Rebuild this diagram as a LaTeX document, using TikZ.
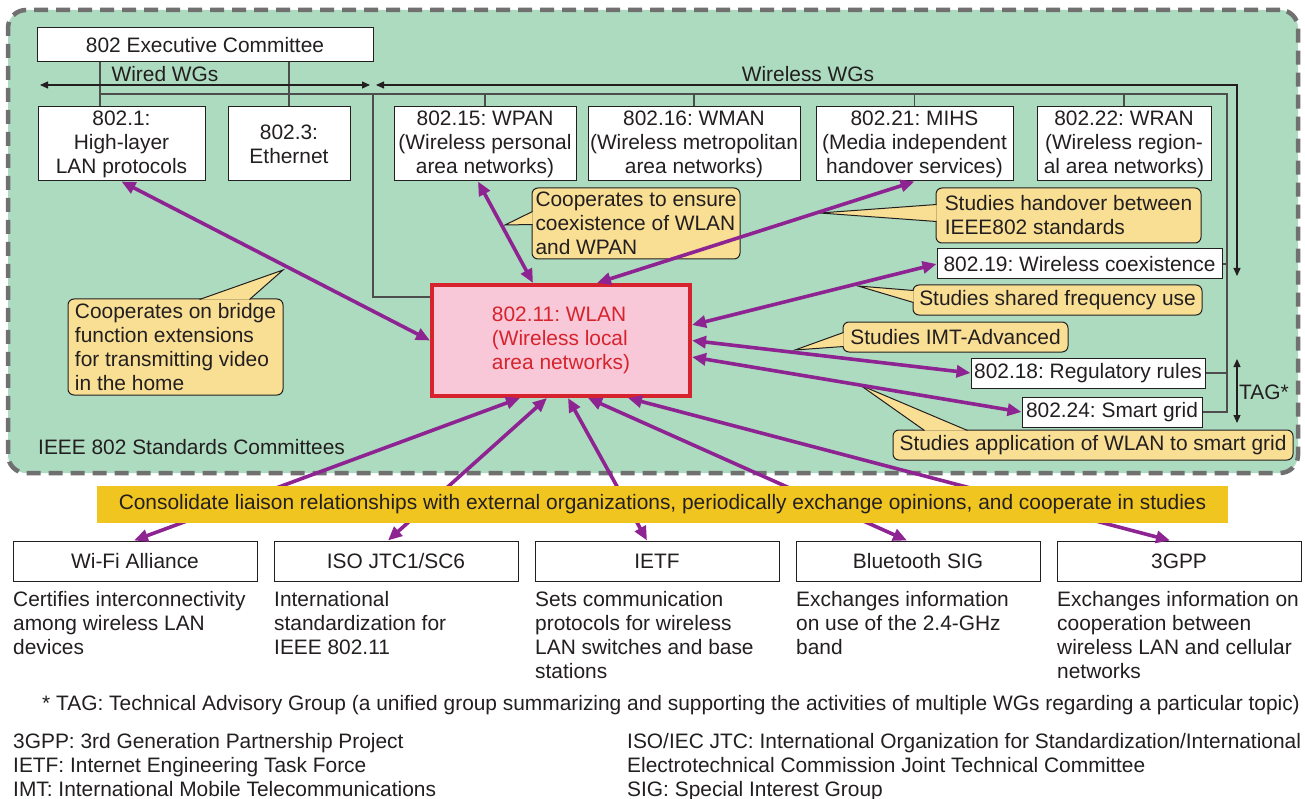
\documentclass[tikz,border=0pt]{standalone}
\usepackage{fontspec}
\setmainfont{Liberation Sans}
\usetikzlibrary{arrows.meta}

\definecolor{ieeegreen}{HTML}{ADDBC0}
\definecolor{dashgray}{HTML}{707070}
\definecolor{busgray}{HTML}{4D4D4D}
\definecolor{inkgray}{HTML}{231F20}
\definecolor{linkpurple}{HTML}{8E2492}
\definecolor{wlanred}{HTML}{D7232D}
\definecolor{wlanpink}{HTML}{F8C8D8}
\definecolor{noteyellow}{HTML}{F8DF94}
\definecolor{bandgold}{HTML}{F1C520}

\tikzset{
  every node/.style={font=\fontsize{20.9}{24}\selectfont\frenchspacing, text=inkgray, inner sep=0pt},
  ieeearea/.style={draw=dashgray, fill=ieeegreen, line width=4.5pt, dash pattern=on 14pt off 8pt, rounded corners=18pt},
  wgbox/.style={draw=inkgray, fill=white, line width=1pt, align=center},
  notebox/.style={draw=inkgray, fill=noteyellow, line width=1pt, rounded corners=6pt, align=left},
  notetip/.style={draw=inkgray, fill=noteyellow, line width=1pt},
  busline/.style={draw=busgray, line width=1.3pt},
  wgspan/.style={draw=inkgray, line width=1.1pt, {Triangle[length=8pt,width=7pt]}-{Triangle[length=8pt,width=7pt]}},
  link/.style={draw=linkpurple, line width=3.6pt, {Triangle[length=14pt,width=12pt]}-{Triangle[length=14pt,width=12pt]}},
  orgbox/.style={draw=inkgray, fill=white, line width=1pt, minimum width=244, minimum height=40},
  liaison/.style={fill=bandgold},
  orgdesc/.style={align=left, anchor=north west}
}

\begin{document}
\begin{tikzpicture}[x=1pt,y=-1pt]
\useasboundingbox[fill=white] (0,0) rectangle (1305,799);
\node[ieeearea, minimum width=1290, minimum height=463] (ieee) at (653,241.5) {};
\node[anchor=west] (ieeelbl) at (38,447) {IEEE 802 Standards Committees};

\node[wgbox, minimum width=336, minimum height=34] (exec) at (205,45) {802 Executive Committee};
\node[wgbox, minimum width=167, minimum height=74] (b1) at (121.5,144) {802.1:\\High-layer\\LAN protocols};
\node[wgbox, minimum width=122, minimum height=74] (b3) at (289,144) {802.3:\\Ethernet};
\node[wgbox, minimum width=182, minimum height=74] (b15) at (485,144) {802.15: WPAN\\(Wireless personal\\area networks)};
\node[wgbox, minimum width=212, minimum height=74] (b16) at (694,144) {802.16: WMAN\\(Wireless metropolitan\\area networks)};
\node[wgbox, minimum width=197, minimum height=74] (b21) at (914.5,144) {802.21: MIHS\\(Media independent\\handover services)};
\node[wgbox, minimum width=174, minimum height=74] (b22) at (1124,144) {802.22: WRAN\\(Wireless region-\\al area networks)};
\node[wgbox, minimum width=285, minimum height=30] (b19) at (1079.5,264) {802.19: Wireless coexistence};
\node[wgbox, minimum width=234, minimum height=30] (b18) at (1088,373) {802.18: Regulatory rules};
\node[wgbox, minimum width=180, minimum height=30] (b24) at (1112,412) {802.24: Smart grid};
\node[wgbox, draw=wlanred, fill=wlanpink, line width=4pt, text=wlanred, align=left, minimum width=258, minimum height=111] (wlan) at (561,340.5) {802.11: WLAN\\(Wireless local\\area networks)};

\coordinate (busL) at (100,94);
\coordinate (busM) at (373,94);
\coordinate (busR) at (1227,94);
\draw[busline] (exec.south -| busL) -- (b1.north -| busL);
\draw[busline] (busL) -- (busR) |- (b24.east);
\draw[busline] (exec.south -| b3.north) -- (b3.north);
\draw[busline] (busM) |- ([yshift=43.5]wlan.west);
\foreach \wg in {b15,b16,b21,b22} \draw[busline] (\wg.north) -- (\wg.north |- busL);
\foreach \wg in {b19,b18} \draw[busline] (\wg.east) -- (\wg.east -| busR);

\coordinate (wiredL) at (40,85);
\coordinate (wiredR) at (370,85);
\coordinate (wlessL) at (376,85);
\coordinate (wlessE) at (1237,276);
\coordinate (tagT) at (1237,359);
\coordinate (tagB) at (1237,423);
\draw[wgspan] (wiredL) -- (wiredR);
\draw[wgspan] (wlessL) -| (wlessE);
\draw[wgspan] (tagT) -- (tagB);
\node (wiredlbl) at (165,74) {Wired WGs};
\node (wlesslbl) at (808,74) {Wireless WGs};
\node (taglbl) at (1264,392) {TAG*};

\node[notebox, minimum width=208, minimum height=71] (nwpan) at (636,223.5) {Cooperates to ensure\\coexistence of WLAN\\and WPAN};
\node[notebox, minimum width=265, minimum height=55] (nhand) at (1068.5,215.5) {Studies handover between\\IEEE802 standards};
\node[notebox, minimum width=289, minimum height=30] (nfreq) at (1057.5,300) {Studies shared frequency use};
\node[notebox, minimum width=225, minimum height=30] (nimt) at (955.5,337) {Studies IMT-Advanced};
\node[notebox, minimum width=400, minimum height=30] (ngrid) at (1093,445) {Studies application of WLAN to smart grid};
\node[notebox, minimum width=215, minimum height=96] (nbridge) at (175.5,347) {Cooperates on bridge\\function extensions\\for transmitting video\\in the home};
\coordinate (twpan) at (505,225);
\coordinate (thand) at (820,213);
\coordinate (tfreq) at (858,286);
\coordinate (timt) at (795,350);
\coordinate (tgrid) at (860,385);
\coordinate (tbridge) at (283,270);
\filldraw[notetip] ([xshift=1,yshift=-24]nwpan.north west) -- (twpan) -- ([xshift=1,yshift=-37]nwpan.north west);
\filldraw[notetip] ([xshift=1,yshift=-17]nhand.north west) -- (thand) -- ([xshift=1,yshift=-34]nhand.north west);
\filldraw[notetip] ([xshift=1,yshift=-6]nfreq.north west) -- (tfreq) -- ([xshift=1,yshift=-18]nfreq.north west);
\filldraw[notetip] ([xshift=1,yshift=-11]nimt.north west) -- (timt) -- ([xshift=1,yshift=-25]nimt.north west);
\filldraw[notetip] ([xshift=32,yshift=-1]ngrid.north west) -- (tgrid) -- ([xshift=75,yshift=-1]ngrid.north west);
\filldraw[notetip] ([xshift=132,yshift=-1]nbridge.north west) -- (tbridge) -- ([xshift=182,yshift=-1]nbridge.north west);

\draw[link] (b1.south) -- (wlan.west);
\draw[link] ([xshift=-7]b15.south) -- ([xshift=-28]wlan.north);
\draw[link] (b21.south) -- ([xshift=36]wlan.north);
\draw[link] (b19.west) -- ([yshift=15.5]wlan.east);
\draw[link] (b18.west) -- (wlan.east);
\draw[link] (b24.west) -- ([yshift=-16.5]wlan.east);

\node[orgbox] (wifi) at (135,561) {Wi-Fi Alliance};
\node[orgbox] (iso) at (396,561) {ISO JTC1/SC6};
\node[orgbox] (ietf) at (657,561) {IETF};
\node[orgbox] (bt) at (918,561) {Bluetooth SIG};
\node[orgbox] (gpp) at (1179,561) {3GPP};
\foreach \org/\dx/\ox in {wifi/-41/-1, iso/-14/-8, ietf/7/-10, bt/27/-11, gpp/67/-9}
  \draw[link] ([xshift=\dx]wlan.south) -- ([xshift=\ox]\org.north);
\node[liaison, minimum width=1131, minimum height=37] (band) at (662.5,504.5) {Consolidate liaison relationships with external organizations, periodically exchange opinions, and cooperate in studies};

\node[orgdesc] (dwifi) at (13,591) {Certifies interconnectivity\\among wireless LAN\\devices};
\node[orgdesc] (diso) at (274,591) {International\\standardization for\\IEEE 802.11};
\node[orgdesc] (dietf) at (535,591) {Sets communication\\protocols for wireless\\LAN switches and base\\stations};
\node[orgdesc] (dbt) at (796,591) {Exchanges information\\on use of the 2.4-GHz\\band};
\node[orgdesc] (dgpp) at (1057,591) {Exchanges information on\\cooperation between\\wireless LAN and cellular\\networks};

\node[anchor=west] (tagnote) at (42,705) {* TAG: Technical Advisory Group (a unified group summarizing and supporting the activities of multiple WGs regarding a particular topic)};
\node[orgdesc] (abbrL) at (13,733) {3GPP: 3rd Generation Partnership Project\\IETF: Internet Engineering Task Force\\IMT: International Mobile Telecommunications};
\node[orgdesc] (abbrR) at (627,733) {ISO/IEC JTC: International Organization for Standardization/International\\Electrotechnical Commission Joint Technical Committee\\SIG: Special Interest Group};
\end{tikzpicture}
\end{document}
